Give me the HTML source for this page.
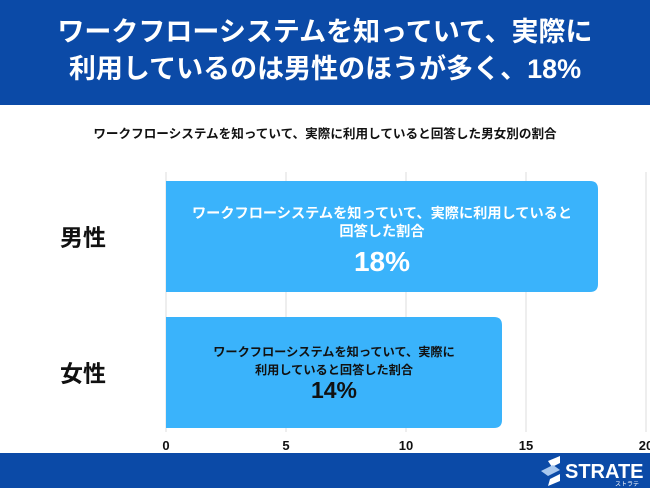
<!DOCTYPE html>
<html><head><meta charset="utf-8"><style>
body{margin:0;width:650px;height:488px;overflow:hidden;background:#fff;font-family:"Liberation Sans","Noto Sans CJK JP",sans-serif;}
#hdr{position:absolute;left:0;top:0;width:650px;height:105px;background:#0b4aa7;color:#fff;font-weight:bold;font-size:27px;text-align:center;line-height:37px;padding-top:14px;box-sizing:border-box;}
#ftr{position:absolute;left:0;top:453px;width:650px;height:35px;background:#0b4aa7;}
#sub{position:absolute;left:0;top:123px;width:650px;text-align:center;font-size:12.6px;font-weight:bold;color:#111;}
</style></head><body>
<div id="hdr">ワークフローシステムを知っていて、実際に<br>利用しているのは男性のほうが多く、18%</div>
<div id="sub">ワークフローシステムを知っていて、実際に利用していると回答した男女別の割合</div>
<svg id="chart" width="650" height="488" style="position:absolute;left:0;top:0"></svg>
<div id="ftr">
<svg width="650" height="35">
<polygon points="548,8 560,3 560,10 552,14" fill="#fff"/>
<polygon points="541,18 553,12 560,17 548,23" fill="#a9c8ee"/>
<polygon points="550,26 560,21 560,28 548,33" fill="#fff"/>
<text x="565" y="25" fill="#fff" font-size="20" font-weight="bold" font-family="Liberation Sans, sans-serif">STRATE</text>
<text x="615" y="33" fill="#fff" font-size="6" font-family="Noto Sans CJK JP, sans-serif">ストラテ</text>
</svg></div>
<script>
const categories=["男性","女性"];
const values=[18,14];
const ticks=[0,5,10,15,20];
const barLabels=[["ワークフローシステムを知っていて、実際に利用していると","回答した割合"],["ワークフローシステムを知っていて、実際に","利用していると回答した割合"]];
const svg=document.getElementById('chart');
const NS='http://www.w3.org/2000/svg';
const x0=166,unit=24,top0=181,band=136,bh=111;
const xs=v=>x0+v*unit;
function mk(t,a){const e=document.createElementNS(NS,t);for(const k in a)e.setAttribute(k,a[k]);svg.appendChild(e);return e;}
ticks.forEach(t=>{
 const g=mk('line',{x1:xs(t),x2:xs(t),y1:172,y2:432,stroke:'#ddd','stroke-width':1});
 
 
 const l=mk('text',{x:xs(t),y:450,'text-anchor':'middle','font-size':13,'font-weight':'bold',fill:'#111'});
 l.textContent=t;
 
 
});
categories.forEach((c,i)=>{
 const y=top0+i*band;const w=xs(values[i])-x0;const r=8;
 const p=mk('path',{d:`M${x0},${y} H${x0+w-r} Q${x0+w},${y} ${x0+w},${y+r} V${y+bh-r} Q${x0+w},${y+bh} ${x0+w-r},${y+bh} H${x0} Z`,fill:'#3ab3fb'});
 
 
 const cat=mk('text',{x:83,y:y+bh/2+9,'text-anchor':'middle','font-size':23,'font-weight':'bold',fill:'#111','font-family':'Noto Sans CJK JP, sans-serif'});
 cat.textContent=c;
 
 
 const cx=x0+w/2;
 barLabels[i].forEach((s,j)=>{
  const t=mk('text',{x:cx,y:y+(i==0?37:39)+j*18,'text-anchor':'middle','font-size':i==0?14.2:12.2,'font-weight':'bold',fill:i==0?'#fff':'#111'});
  t.textContent=s;
  
  
 });
 const v=mk('text',{x:cx,y:y+(i==0?90:81),'text-anchor':'middle','font-size':i==0?28:23,'font-weight':'bold',fill:i==0?'#fff':'#111'});
 v.textContent=values[i]+'%';
 
 
});
</script>
</body></html>
